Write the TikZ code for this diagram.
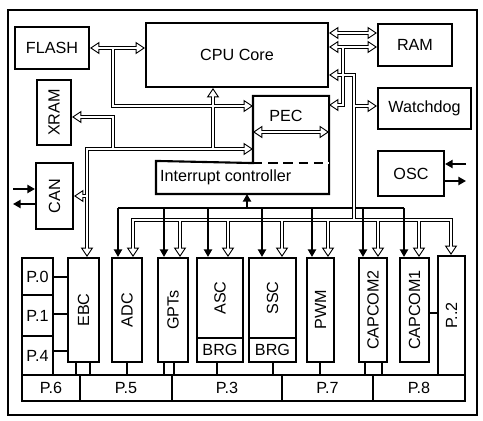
\documentclass[tikz,border=0pt]{standalone}
\usepackage{fontspec}
\setmainfont{Liberation Sans}
\usepackage{graphicx}
\usetikzlibrary{arrows.meta}

\tikzset{
  box/.style 2 args={draw,line width=1.8pt,inner sep=0pt,minimum width=#1*0.3mm,minimum height=#2*0.3mm},
  hollow/.tip={Triangle[open,fill=white,length=8pt,width=10.5pt,line width=0.8pt]},
  filled/.tip={Triangle[length=6.5pt,width=7pt]},
  busout/.style={line width=4pt,line cap=rect,
    tipend/.style={-hollow},tipstart/.style={hollow-},tipboth/.style={hollow-hollow}},
  busin/.style={line width=1.8pt,line cap=rect,white,
    tipend/.style={shorten >=6.3pt},tipstart/.style={shorten <=6.3pt},
    tipboth/.style={shorten <=6.3pt,shorten >=6.3pt}},
  irq/.style={line width=1.5pt,-filled},
  wire/.style={line width=1.3pt},
}

\begin{document}
\begin{tikzpicture}[x=0.3mm,y=-0.3mm,font=\fontsize{13.8}{16}\selectfont]
\useasboundingbox (0,0) rectangle (483,421);
\draw[line width=2.2pt] (8,10) rectangle (477,415);

% core, memories, system blocks
\node[box={74}{42}] (flash) at (52,48) {FLASH};
\node[box={182}{64}] (cpu) at (237,55) {CPU Core};
\node[box={74}{42}] (ram) at (415,45) {RAM};
\node[box={93}{41}] (wdog) at (424.5,108.5) {Watchdog};
\node[box={66}{45}] (osc) at (411,173.5) {OSC};
\node[box={34}{65}] (xram) at (54,112.5) {\rotatebox{90}{XRAM}};
\node[box={37}{66}] (can) at (54.5,196) {\rotatebox{90}{CAN}};
\node[box={74}{65},draw=none] (pec) at (291,129.5) {};
\node (pectxt) at (286,116) {PEC};
\node[box={171}{31},draw=none,label={[anchor=west]west:Interrupt controller}] (intr) at (242.5,177.5) {};
\draw[line width=1.8pt] (pec.south west) -- (pec.north west) -- (pec.north east)
  -- (intr.south east) -- (intr.south west) -- (intr.north west) -- cycle;
\draw[line width=1.8pt,white] (pec.south west) -- (pec.south east);
\draw[line width=1.8pt,dash pattern=on 8pt off 5pt] (pec.south west) -- (pec.south east);

% peripherals
\node[box={31}{37}] (p0) at (37.5,276.5) {P.0};
\node[box={31}{41}] (p1) at (37.5,315.5) {P.1};
\node[box={31}{39}] (p4) at (37.5,355.5) {P.4};
\node[box={31}{104}] (ebc) at (83.5,310) {\rotatebox{90}{EBC}};
\node[box={30}{104}] (adc) at (127,310) {\rotatebox{90}{ADC}};
\node[box={30}{104}] (gpt) at (173,310) {\rotatebox{90}{GPTs}};
\node[box={46}{80}] (asc) at (220,298) {\rotatebox{90}{ASC}};
\node[box={46}{24}] (brga) at (220,350) {BRG};
\node[box={47}{80}] (ssc) at (272.5,298) {\rotatebox{90}{SSC}};
\node[box={47}{24}] (brgb) at (272.5,350) {BRG};
\node[box={27}{104}] (pwm) at (320.5,310) {\rotatebox{90}{PWM}};
\node[box={28}{104}] (cc2) at (373,310) {\rotatebox{90}{CAPCOM2}};
\node[box={29}{104}] (cc1) at (414.5,310) {\rotatebox{90}{CAPCOM1}};
\node[box={27}{119}] (p2) at (451.5,315.5) {\rotatebox{90}{P..2}};

% port row
\node[box={58}{26}] (p6) at (51,388) {P.6};
\node[box={92}{26}] (p5) at (126,388) {P.5};
\node[box={110}{26}] (p3) at (227,388) {P.3};
\node[box={91}{26}] (p7) at (327.5,388) {P.7};
\node[box={92}{26}] (p8) at (419,388) {P.8};

% interrupt request line
\coordinate (irqL) at (118,208);
\coordinate (irqR) at (404,208);
\draw[line width=1.5pt] (irqL) -- (irqR);

% data buses
\foreach \p in {busout,busin}{
  \draw[\p,tipboth] (flash.east) -- (flash.east -| cpu.west);
  \draw[\p,tipend] (113,48) |- (pec.west |- 0,106);
  \draw[\p,tipboth] (pec.west |- 0,149) -| (ebc.north -| 87,0);
  \draw[\p,tipend] (213,149) -- (cpu.south -| 213,0);
  \draw[\p,tipend] (113,149) |- (xram.east |- 0,117);
  \draw[\p,tipend] (87,196) -- (can.east);
  \draw[\p,tipboth] (cpu.east |- 0,33) -- (ram.west |- 0,33);
  \draw[\p,tipboth] (cpu.east |- 0,47) -- (ram.west |- 0,47);
  \draw[\p,tipend] (343,47) |- (pec.east |- 0,105);
  \draw[\p,tipstart] (cpu.east |- 0,75) -| (354,220);
  \draw[\p,tipend] (354,106) -- (wdog.west |- 0,106);
  \draw[\p,tipboth] (pec.west |- 0,132) -- (pec.east |- 0,132);
  \draw[\p] (133,220) -- (451,220);
  \foreach \x/\m in {133/adc,180/gpt,228/asc,282/ssc,328/pwm,378/cc2,419/cc1,451/p2}
    \draw[\p,tipend] (\x,220) -- (\m.north -| \x,0);
}

\foreach \x/\m in {118/adc,164/gpt,208/asc,262/ssc,312/pwm,363/cc2,404/cc1}
  \draw[irq] (\x,208) -- (\m.north -| \x,0);
\draw[irq] (247,208) -- (intr.south -| 247,0);

% port connections
\foreach \x/\m/\q in {76/ebc/p6,90/ebc/p5,127/adc/p5,164/gpt/p5,174/gpt/p3,217/brga/p3,273/brgb/p3,320/pwm/p7,365/cc2/p7,382/cc2/p8}
  \draw[wire] (\m.south -| \x,0) -- (\q.north -| \x,0);
\draw[wire] (p0.east |- 0,277) -- (ebc.west |- 0,277);
\draw[wire] (p1.east |- 0,314) -- (ebc.west |- 0,314);
\draw[wire] (p4.east |- 0,351) -- (ebc.west |- 0,351);
\draw[wire] (cc1.east |- 0,313) -- (p2.west |- 0,313);

% external pins
\coordinate (canin) at (13,189);
\coordinate (canout) at (13,204);
\coordinate (oscin) at (466,164);
\coordinate (oscout) at (466,181);
\draw[irq] (canin) -- (can.west |- canin);
\draw[irq] (can.west |- canout) -- (canout);
\draw[irq] (oscin) -- (osc.east |- oscin);
\draw[irq] (osc.east |- oscout) -- (oscout);
\end{tikzpicture}
\end{document}
